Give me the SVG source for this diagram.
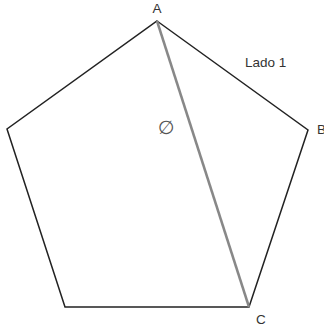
<svg xmlns="http://www.w3.org/2000/svg" width="324" height="328" viewBox="0 0 324 328">
<style>
text{font-family:"Liberation Sans",Arial,sans-serif;font-size:13.5px;fill:#333}
.edge{fill:none;stroke:#222;stroke-width:1.5;stroke-linejoin:miter}
.diag{stroke:#888;stroke-width:2.5;fill:none}
</style>
<rect width="324" height="328" fill="#fff"/>
<g id="pentagon">
<polygon class="edge" points="157,21 308,130 249,307 65,307 7,129"/>
</g>
<g id="connectors">
<line class="diag" x1="157" y1="21" x2="249" y2="307"/>
</g>
<g id="labels">
<text x="157" y="13" text-anchor="middle">A</text>
<text x="245" y="67">Lado 1</text>
<text x="317" y="134">B</text>
<text x="256" y="324">C</text>
<text x="166" y="134" text-anchor="middle" style="font-family:'DejaVu Sans',sans-serif;font-size:19px;fill:#555">∅</text>
</g>
</svg>
